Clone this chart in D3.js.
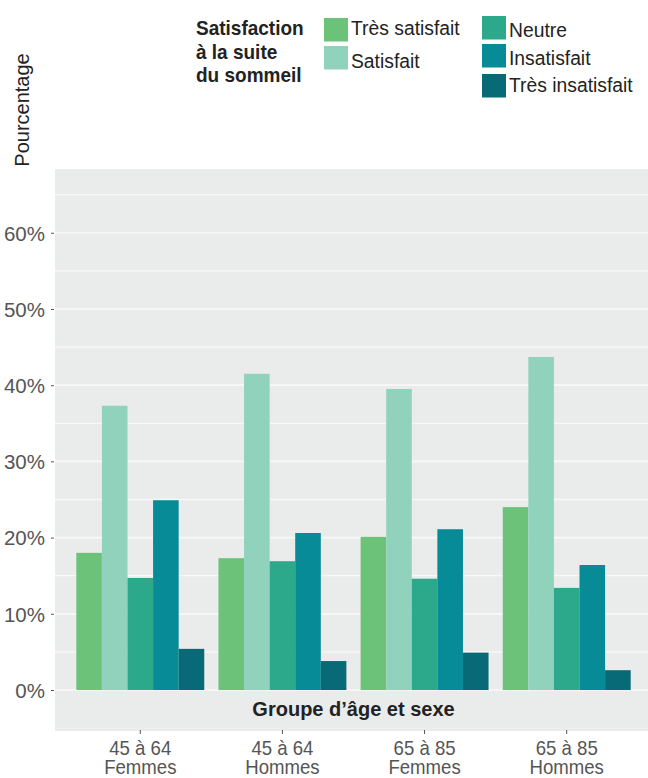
<!DOCTYPE html>
<html><head><meta charset="utf-8">
<script src="https://cdn.jsdelivr.net/npm/d3@7/dist/d3.min.js"></script>
<style>
body{margin:0;background:#fff;}
svg{display:block;font-family:"Liberation Sans",Arial,sans-serif;}
</style>
</head><body>
<svg id="c" width="648" height="778"></svg>
<script>
// ---- data ----
const groupAges = ["45 à 64", "45 à 64", "65 à 85", "65 à 85"];
const groupSexes = ["Femmes", "Hommes", "Femmes", "Hommes"];
const seriesNames = ["Très satisfait", "Satisfait", "Neutre", "Insatisfait", "Très insatisfait"];
const tresSatisfait = [18.0, 17.3, 20.1, 24.0];
const satisfait = [37.3, 41.5, 39.5, 43.7];
const neutre = [14.7, 16.9, 14.6, 13.4];
const insatisfait = [24.9, 20.6, 21.1, 16.4];
const tresInsatisfait = [5.4, 3.8, 4.9, 2.6];
const yTicks = [0, 10, 20, 30, 40, 50, 60];
const yMinor = [5, 15, 25, 35, 45, 55, 65];
const legendTitle = ["Satisfaction", "à la suite", "du sommeil"];
const xTitle = "Groupe d’âge et sexe";
const yTitle = "Pourcentage";
const colors = ["#6dc27a", "#91d2bd", "#2ca88a", "#078b96", "#086a76"];

const seriesValues = [tresSatisfait, satisfait, neutre, insatisfait, tresInsatisfait];
const groupIdx = groupAges.map((d, i) => i);

const svg = d3.select("#c");

// ---- scales ----
const panelLeft = 55, panelRight = 652, panelTop = 169, bandBottom = 731;
const x0 = d3.scaleBand().domain(groupIdx).range([panelLeft, panelRight]).paddingInner(0.1).paddingOuter(0.15);
const x1 = d3.scaleBand().domain(seriesNames).range([0, x0.bandwidth()]);
const y = d3.scaleLinear().domain([0, 68.5]).range([690, 168]);
const color = d3.scaleOrdinal().domain(seriesNames).range(colors);

function txt(g, x, yy, s, o) {
  o = o || {};
  return g.append("text")
    .attr("transform", `translate(${x},${yy}) scale(${o.sx || 1},1)`)
    .attr("text-anchor", o.anchor || "start")
    .style("font-size", (o.size || 20) + "px")
    .style("font-weight", o.weight || "normal")
    .attr("fill", o.fill || "#222")
    .text(s);
}

// ---- panel ----
svg.append("rect").attr("x", panelLeft).attr("y", panelTop)
  .attr("width", 648 - panelLeft).attr("height", bandBottom - panelTop)
  .attr("fill", "#eaeceb");

svg.append("g").selectAll("line").data(yMinor).join("line")
  .attr("x1", panelLeft).attr("x2", 648)
  .attr("y1", d => y(d)).attr("y2", d => y(d))
  .attr("stroke", "#f8f8f8").attr("stroke-width", 1.3);
svg.append("g").selectAll("line").data(yTicks).join("line")
  .attr("x1", panelLeft).attr("x2", 648)
  .attr("y1", d => y(d)).attr("y2", d => y(d))
  .attr("stroke", "#f8f8f8").attr("stroke-width", 1.7);

// ---- bars ----
const gBars = svg.append("g");
groupIdx.forEach(gi => {
  gBars.append("g").attr("transform", `translate(${x0(gi)},0)`)
    .selectAll("rect").data(seriesNames.map((s, si) => ({s, v: seriesValues[si][gi]})))
    .join("rect")
    .attr("x", d => x1(d.s)).attr("width", x1.bandwidth())
    .attr("y", d => y(d.v)).attr("height", d => y(0) - y(d.v))
    .attr("fill", d => color(d.s));
});

// ---- y axis ----
const yAxis = svg.append("g").attr("transform", `translate(${panelLeft - 1},0)`)
  .call(d3.axisLeft(y).tickValues(yTicks).tickFormat(d => d + "%").tickSize(3).tickPadding(6));
yAxis.select(".domain").remove();
yAxis.selectAll(".tick line").attr("stroke", "#555");
yAxis.selectAll(".tick text")
  .style("font-size", "20.5px").style("font-family", "'Liberation Sans',Arial,sans-serif")
  .attr("fill", "#555").attr("dy", "0.36em");

// ---- x axis ----
const xAxis = svg.append("g").attr("transform", `translate(0,${bandBottom - 1})`)
  .call(d3.axisBottom(x0).tickFormat("").tickSize(4));
xAxis.select(".domain").remove();
xAxis.selectAll(".tick line").attr("stroke", "#555");
groupIdx.forEach(gi => {
  const cx = x0(gi) + x0.bandwidth() / 2;
  txt(svg, cx, 755, groupAges[gi], {anchor: "middle", size: 20, sx: 0.93, fill: "#555"});
  txt(svg, cx, 774, groupSexes[gi], {anchor: "middle", size: 20, sx: 0.93, fill: "#555"});
});

// x title inside band
txt(svg, (panelLeft + panelRight) / 2, 716, xTitle, {anchor: "middle", size: 20, weight: "bold", fill: "#222"});

// y title
svg.append("text").attr("transform", "translate(29,110) rotate(-90)")
  .attr("text-anchor", "middle").style("font-size", "20px").attr("fill", "#222").text(yTitle);

// ---- legend ----
const lg = svg.append("g");
legendTitle.forEach((t, i) => txt(lg, 196, 35 + i * 23.5, t, {size: 20, weight: "bold", sx: 0.95}));
const legendPos = [
  {kx: 324, ky: 18, tb: 35},
  {kx: 324, ky: 46, tb: 68},
  {kx: 482, ky: 16, tb: 37},
  {kx: 482, ky: 44, tb: 65},
  {kx: 482, ky: 74, tb: 92}
];
seriesNames.forEach((s, i) => {
  const p = legendPos[i];
  lg.append("rect").attr("x", p.kx).attr("y", p.ky).attr("width", 24).attr("height", 23.5).attr("fill", color(s));
  txt(lg, p.kx + 27, p.tb, s, {size: 21, sx: 0.92});
});
</script>
</body></html>
